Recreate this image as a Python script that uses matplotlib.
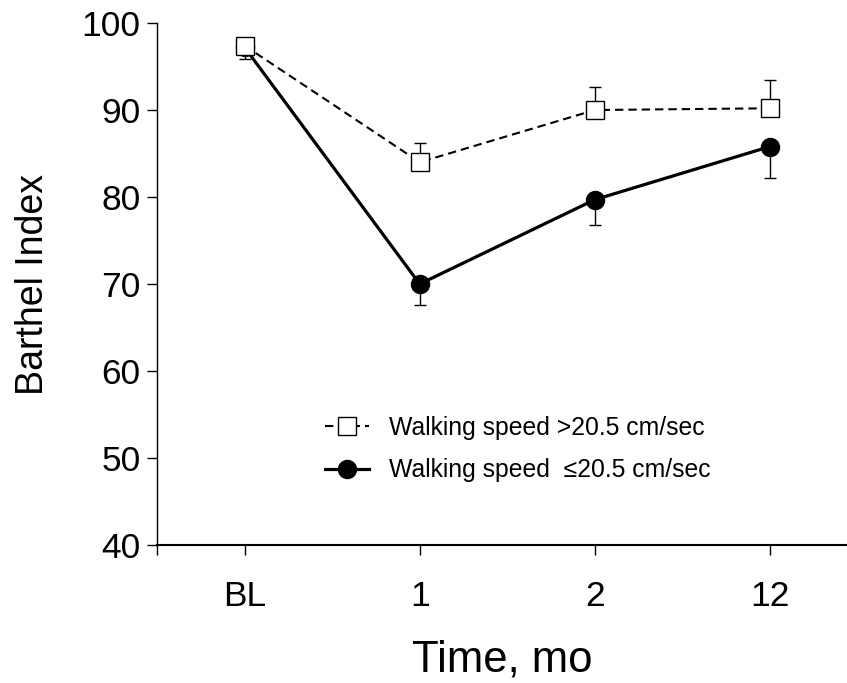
import numpy as np
import matplotlib.pyplot as plt

plt.rcParams['font.family'] = ['Liberation Sans', 'DejaVu Sans']

timeLabels = ['BL', '1', '2', '12']
fastMean = [97.4, 84.0, 90.0, 90.2]     # walking speed >20.5 cm/sec
fastErr = [0.0, 2.2, 2.6, 3.3]
slowMean = [97.2, 70.0, 79.7, 85.8]     # walking speed <=20.5 cm/sec
slowErr = [1.3, 2.4, 2.9, 3.6]

x = np.arange(len(timeLabels))

fig = plt.figure(figsize=(8.47, 6.83), dpi=100)
ax = fig.add_axes([0.1854, 0.2020, 0.8146, 0.7643])

# slow group: solid line, filled circles, error bars downward
ax.errorbar(x, slowMean, yerr=[slowErr, np.zeros(len(x))], fmt='none',
            ecolor='black', elinewidth=1.0, capsize=4.5, capthick=1.0, zorder=2)
ax.plot(x, slowMean, color='black', lw=2.3, marker='o', markersize=13,
        markerfacecolor='black', markeredgecolor='black',
        label='Walking speed  \u226420.5 cm/sec', zorder=3)

# fast group: dashed line, open squares, error bars upward
ax.errorbar(x, fastMean, yerr=[np.zeros(len(x)), fastErr], fmt='none',
            ecolor='black', elinewidth=1.0, capsize=4.5, capthick=1.0, zorder=4)
ax.plot(x, fastMean, color='black', lw=1.5, dashes=(4, 2.4), marker='s',
        markersize=12.5, markerfacecolor='white', markeredgecolor='black',
        markeredgewidth=1.0, label='Walking speed >20.5 cm/sec', zorder=5)

ax.set_xlim(-0.5, 3.44)
ax.set_ylim(40, 100)
ax.set_yticks(np.arange(40, 101, 10))
ax.set_xticks([-0.5, 0, 1, 2, 3])
ax.set_xticklabels([''] + timeLabels)

ax.spines['top'].set_visible(False)
ax.spines['right'].set_visible(False)
ax.spines['left'].set_linewidth(1.0)
ax.spines['bottom'].set_linewidth(1.5)
ax.tick_params(axis='both', direction='out', length=7, width=1.0,
               labelsize=25.5)
ax.tick_params(axis='y', pad=5)
ax.tick_params(axis='x', pad=18)

ax.set_xlabel('Time, mo', fontsize=31.5, labelpad=19)
ax.set_ylabel('Barthel Index', fontsize=27, labelpad=22)

handles, labels = ax.get_legend_handles_labels()
ax.legend(handles[::-1], labels[::-1], frameon=False, fontsize=17.8,
          loc='upper left', bbox_to_anchor=(0.211, 0.29), handlelength=1.8,
          handletextpad=0.8, labelspacing=0.75)

fig.savefig('out.png', dpi=100)
